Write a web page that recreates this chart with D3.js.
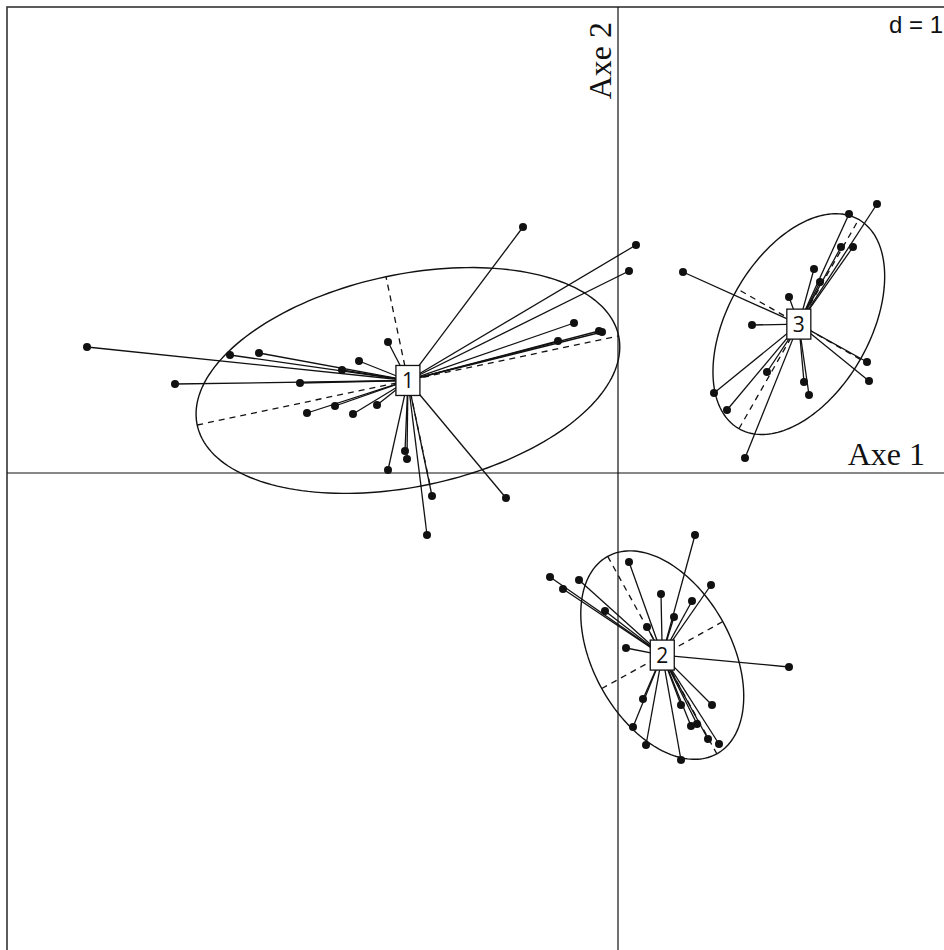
<!DOCTYPE html>
<html>
<head>
<meta charset="utf-8">
<script src="https://cdn.jsdelivr.net/npm/d3@7"></script>
<style>
  body { margin: 0; background: #fff; }
  svg { display: block; }
</style>
</head>
<body>
<div id="chart"></div>
<script>
// class labels
var classLabels = ["1", "2", "3"];

// individuals of class 1 (scores on axe 1 / axe 2)
var class1X = [-5.31, -3.88, -3.59, -2.76, -2.59, -4.43, -3.18, -3.11, -2.83, -2.65, -2.41, -2.30, -0.95,
               0.18, 0.11, -0.44, -0.19, -0.16, -0.60, -2.13, -2.11, -2.30, -1.86, -1.12, -1.91];
var class1Y = [1.26, 1.18, 1.20, 1.03, 1.12, 0.89, 0.90, 0.60, 0.67, 0.59, 0.68, 1.31, 2.46,
               2.28, 2.02, 1.50, 1.42, 1.41, 1.32, 0.22, 0.14, 0.03, -0.23, -0.25, -0.62];

// individuals of class 2
var class2X = [0.77, 0.11, -0.68, -0.55, -0.39, 0.93, 0.43, 0.74, -0.13, 0.56, 0.29, 0.08,
               1.71, 0.25, 0.94, 0.63, 0.15, 0.73, 0.79, 0.90, 1.01, 0.28, 0.63];
var class2Y = [-0.62, -0.89, -1.04, -1.16, -1.07, -1.12, -1.21, -1.28, -1.38, -1.44, -1.54, -1.75,
               -1.94, -2.26, -2.32, -2.32, -2.54, -2.53, -2.51, -2.66, -2.71, -2.72, -2.87];

// individuals of class 3
var class3X = [2.59, 2.31, 2.23, 2.35, 1.96, 2.02, 0.65, 1.71, 1.34, 2.49, 2.51, 1.49, 1.86, 1.91, 0.96, 1.09, 1.27];
var class3Y = [2.69, 2.59, 2.26, 2.26, 2.04, 1.91, 2.01, 1.76, 1.48, 1.11, 0.92, 1.01, 0.91, 0.78, 0.80, 0.63, 0.15];

var axisLabels = ["Axe 1", "Axe 2"];
var gridLabel = "d = 1";
var cellipse = 1.5;

var width = 944, height = 950;

var svg = d3.select("#chart").append("svg")
    .attr("width", width)
    .attr("height", height);

// 100 px per unit on both axes, frame runs off the right / bottom edge
var x = d3.scaleLinear().domain([-6.11, 3.34]).range([7, 952]);
var y = d3.scaleLinear().domain([4.66, -4.84]).range([7, 957]);

var ink = "#111";

// frame
svg.append("rect")
    .attr("x", x(-6.11)).attr("y", y(4.66))
    .attr("width", x(3.34) - x(-6.11)).attr("height", y(-4.84) - y(4.66))
    .attr("fill", "none").attr("stroke", "#333").attr("stroke-width", 1.6);

// axes through origin
svg.append("line")
    .attr("x1", x(-6.11)).attr("x2", x(3.34))
    .attr("y1", y(0)).attr("y2", y(0))
    .attr("stroke", ink).attr("stroke-width", 1.2);
svg.append("line")
    .attr("x1", x(0)).attr("x2", x(0))
    .attr("y1", y(4.66)).attr("y2", y(-4.84))
    .attr("stroke", ink).attr("stroke-width", 1.2);

// d = 1 in the top right corner
svg.append("text")
    .attr("x", 943).attr("y", 33)
    .attr("text-anchor", "end")
    .attr("font-family", "Liberation Sans")
    .attr("font-size", 24)
    .attr("fill", ink)
    .text(gridLabel);

// axis names
svg.append("text")
    .attr("x", 925).attr("y", 465)
    .attr("text-anchor", "end")
    .attr("font-family", "Liberation Serif")
    .attr("font-size", 32)
    .attr("fill", ink)
    .text(axisLabels[0]);
svg.append("text")
    .attr("transform", "translate(611,22) rotate(-90)")
    .attr("text-anchor", "end")
    .attr("font-family", "Liberation Serif")
    .attr("font-size", 32)
    .attr("fill", ink)
    .text(axisLabels[1]);

var classes = [
  { label: classLabels[0], xs: class1X, ys: class1Y },
  { label: classLabels[1], xs: class2X, ys: class2Y },
  { label: classLabels[2], xs: class3X, ys: class3Y }
];

// mean, covariance and ellipse axes for one class (like s.class)
function stats(c) {
  var n = c.xs.length;
  var mx = d3.mean(c.xs), my = d3.mean(c.ys);
  var sxx = d3.sum(c.xs, function(v){ return (v - mx) * (v - mx); }) / n;
  var syy = d3.sum(c.ys, function(v){ return (v - my) * (v - my); }) / n;
  var sxy = d3.sum(c.xs.map(function(v, i){ return (v - mx) * (c.ys[i] - my); })) / n;
  var tr = sxx + syy, det = sxx * syy - sxy * sxy;
  var disc = Math.sqrt(Math.max(tr * tr / 4 - det, 0));
  var l1 = tr / 2 + disc, l2 = Math.max(tr / 2 - disc, 0);
  var theta = 0.5 * Math.atan2(2 * sxy, sxx - syy);
  return { mx: mx, my: my, a: cellipse * Math.sqrt(l1), b: cellipse * Math.sqrt(l2), theta: theta };
}

var lineGen = d3.line()
    .x(function(d){ return x(d[0]); })
    .y(function(d){ return y(d[1]); })
    .curve(d3.curveLinearClosed);

classes.forEach(function(c) {
  var s = stats(c);
  var ct = Math.cos(s.theta), st = Math.sin(s.theta);

  // ellipse
  var pts = d3.range(0, 360, 2).map(function(deg) {
    var t = deg * Math.PI / 180;
    return [s.mx + s.a * Math.cos(t) * ct - s.b * Math.sin(t) * st,
            s.my + s.a * Math.cos(t) * st + s.b * Math.sin(t) * ct];
  });
  svg.append("path")
      .attr("d", lineGen(pts))
      .attr("fill", "none").attr("stroke", ink).attr("stroke-width", 1.4);

  // dashed ellipse axes
  var axes = [
    [[s.mx - s.a * ct, s.my - s.a * st], [s.mx + s.a * ct, s.my + s.a * st]],
    [[s.mx + s.b * st, s.my - s.b * ct], [s.mx - s.b * st, s.my + s.b * ct]]
  ];
  svg.selectAll(null).data(axes).enter().append("line")
      .attr("x1", function(d){ return x(d[0][0]); })
      .attr("y1", function(d){ return y(d[0][1]); })
      .attr("x2", function(d){ return x(d[1][0]); })
      .attr("y2", function(d){ return y(d[1][1]); })
      .attr("stroke", ink).attr("stroke-width", 1.3)
      .attr("stroke-dasharray", "6,5");

  // stars: each individual to its class mean
  var idx = d3.range(c.xs.length);
  svg.selectAll(null).data(idx).enter().append("line")
      .attr("x1", function(i){ return x(c.xs[i]); })
      .attr("y1", function(i){ return y(c.ys[i]); })
      .attr("x2", x(s.mx)).attr("y2", y(s.my))
      .attr("stroke", ink).attr("stroke-width", 1.3);

  svg.selectAll(null).data(idx).enter().append("circle")
      .attr("cx", function(i){ return x(c.xs[i]); })
      .attr("cy", function(i){ return y(c.ys[i]); })
      .attr("r", 4)
      .attr("fill", ink);

  c.stats = s;
});

// class label boxes on top
classes.forEach(function(c) {
  var s = c.stats;
  svg.append("rect")
      .attr("x", x(s.mx) - 12).attr("y", y(s.my) - 15)
      .attr("width", 24).attr("height", 30)
      .attr("fill", "#fff").attr("stroke", ink).attr("stroke-width", 1.3);
  svg.append("text")
      .attr("x", x(s.mx)).attr("y", y(s.my))
      .attr("dy", "0.36em")
      .attr("text-anchor", "middle")
      .attr("font-family", "Open Sans")
      .attr("font-size", 21)
      .attr("fill", ink)
      .text(c.label);
});
</script>
</body>
</html>
